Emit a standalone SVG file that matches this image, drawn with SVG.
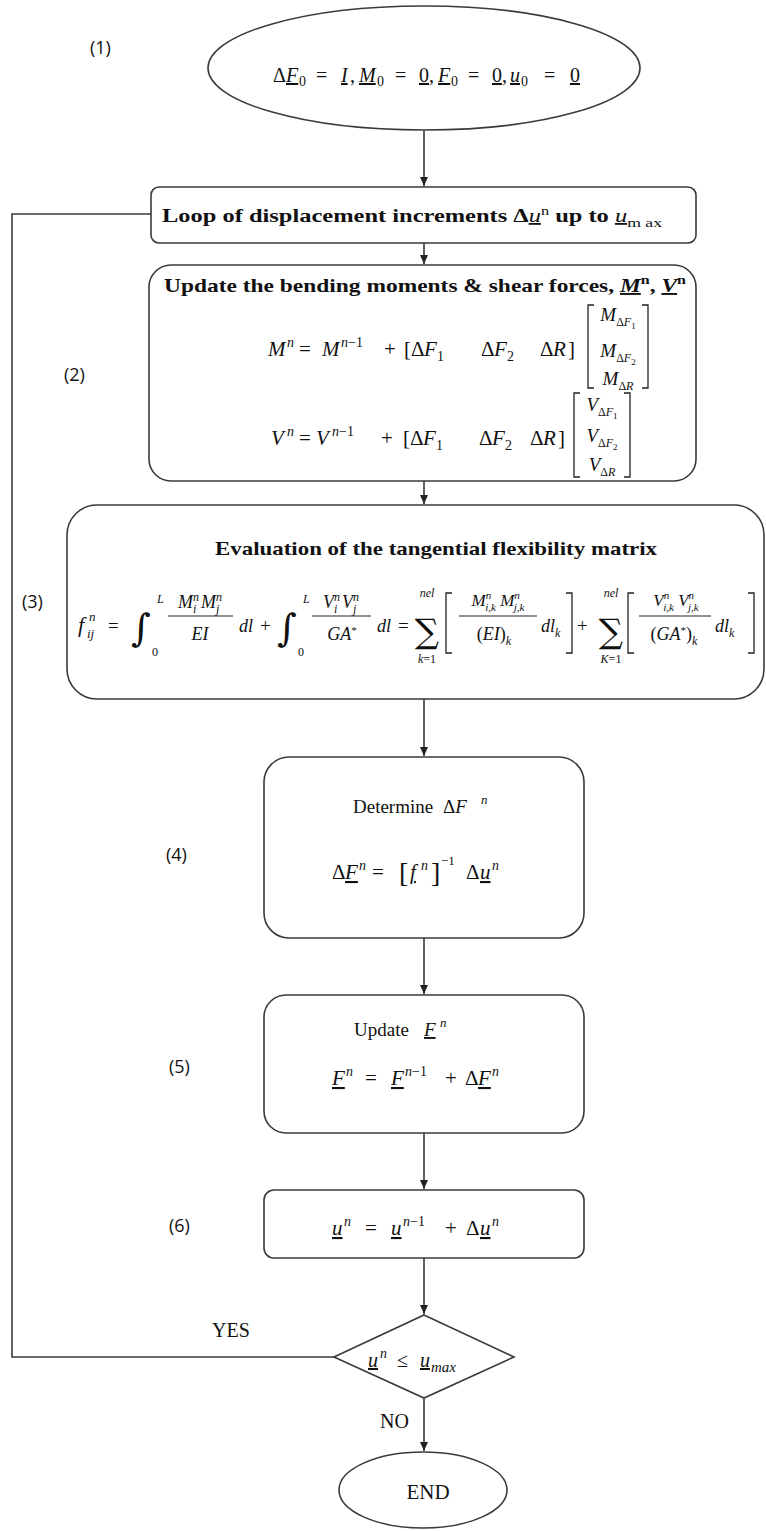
<svg xmlns="http://www.w3.org/2000/svg" width="766" height="1531" viewBox="0 0 766 1531">
<style>
.s { fill:#fff; stroke:#3a3a3a; stroke-width:1.6 }
.c { fill:none; stroke:#3a3a3a; stroke-width:1.6 }
.br { fill:none; stroke:#222; stroke-width:1.3 }
.bar { stroke:#222; stroke-width:1 }
text { fill:#111; font-family:"Liberation Serif", serif; }
.i { font-style:italic }
.b { font-weight:bold }
.u { text-decoration:underline }
.lb { font-family:"Open Sans","Liberation Sans",sans-serif; font-size:18px }
.op { font-family:"DejaVu Serif", serif }
</style>
<defs>
<marker id="ah" markerWidth="10" markerHeight="10" refX="9" refY="5" orient="auto" markerUnits="userSpaceOnUse"><path d="M0,1 L9,5 L0,9 z" fill="#222"/></marker>
</defs>
<rect x="0" y="0" width="766" height="1531" fill="#fff"/>

<g id="connectors">
<line class="c" x1="424" y1="131" x2="424" y2="186" marker-end="url(#ah)"/>
<line class="c" x1="424" y1="243" x2="424" y2="264" marker-end="url(#ah)"/>
<line class="c" x1="424" y1="481" x2="424" y2="504" marker-end="url(#ah)"/>
<line class="c" x1="424" y1="699" x2="424" y2="756" marker-end="url(#ah)"/>
<line class="c" x1="424" y1="938" x2="424" y2="994" marker-end="url(#ah)"/>
<line class="c" x1="424" y1="1133" x2="424" y2="1189" marker-end="url(#ah)"/>
<line class="c" x1="424" y1="1258" x2="424" y2="1314" marker-end="url(#ah)"/>
<line class="c" x1="424" y1="1398" x2="424" y2="1451" marker-end="url(#ah)"/>
<polyline class="c" points="334,1357 12,1357 12,214 151,214"/>
<text x="212" y="1337" font-size="20">YES</text>
<text x="380" y="1428" font-size="20">NO</text>
</g>

<g id="labels">
<text class="lb" x="90" y="54">(1)</text>
<text class="lb" x="64" y="381">(2)</text>
<text class="lb" x="22" y="608">(3)</text>
<text class="lb" x="166" y="861">(4)</text>
<text class="lb" x="169" y="1073">(5)</text>
<text class="lb" x="169" y="1232">(6)</text>
</g>

<g id="start">
<ellipse class="s" cx="424" cy="68" rx="216" ry="62"/>
<text y="82" font-size="20"><tspan x="273">Δ</tspan><tspan x="286" class="i u">F</tspan><tspan x="299" dy="4" font-size="14">0</tspan><tspan x="316" dy="-4">=</tspan><tspan x="341" class="i u">I</tspan><tspan x="350">,</tspan><tspan x="359" class="i u">M</tspan><tspan x="377" dy="4" font-size="14">0</tspan><tspan x="395" dy="-4">=</tspan><tspan x="419" class="u">0</tspan><tspan x="429">,</tspan><tspan x="438" class="i u">F</tspan><tspan x="451" dy="4" font-size="14">0</tspan><tspan x="468" dy="-4">=</tspan><tspan x="492" class="u">0</tspan><tspan x="502">,</tspan><tspan x="510" class="i u">u</tspan><tspan x="521" dy="4" font-size="14">0</tspan><tspan x="544" dy="-4">=</tspan><tspan x="570" class="u">0</tspan></text>
</g>

<g id="loop">
<rect class="s" x="151" y="187" width="545" height="56" rx="8"/>
<text class="b" x="162" y="222" font-size="18" textLength="500" lengthAdjust="spacingAndGlyphs">Loop of displacement increments Δ<tspan class="i u" font-weight="normal">u</tspan><tspan dy="-7" font-size="12" font-weight="normal">n</tspan><tspan dy="7"> up to </tspan><tspan class="i u" font-weight="normal">u</tspan><tspan dy="5" font-size="13" font-weight="normal">m ax</tspan></text>
</g>

<g id="update-moments">
<rect class="s" x="149" y="265" width="547" height="216" rx="22"/>
<text class="b" x="164" y="292" font-size="19" textLength="522" lengthAdjust="spacingAndGlyphs">Update the bending moments &amp; shear forces, <tspan class="i u">M</tspan><tspan dy="-8" font-size="13">n</tspan><tspan dy="8">, </tspan><tspan class="i u">V</tspan><tspan dy="-8" font-size="13">n</tspan></text>
<text font-size="21" y="356"><tspan x="268" class="i">M</tspan><tspan x="287" dy="-9" font-size="14" class="i">n</tspan><tspan x="299" dy="9">=</tspan><tspan x="322" class="i">M</tspan><tspan x="341" dy="-9" font-size="14"><tspan class="i">n</tspan>−1</tspan><tspan x="384" dy="9">+</tspan><tspan x="404">[</tspan><tspan x="411">Δ</tspan><tspan x="424" class="i">F</tspan><tspan x="437" dy="5" font-size="14">1</tspan><tspan x="481" dy="-5">Δ</tspan><tspan x="494" class="i">F</tspan><tspan x="507" dy="5" font-size="14">2</tspan><tspan x="540" dy="-5">Δ</tspan><tspan x="553" class="i">R</tspan><tspan x="568">]</tspan></text>
<path class="br" d="M594,305 H588 V388 H594 M642,305 H648 V388 H642"/>
<text font-size="19" y="321" x="618" text-anchor="middle"><tspan class="i">M</tspan><tspan dy="5" font-size="12">Δ<tspan class="i">F</tspan></tspan><tspan dy="3" font-size="9">1</tspan></text>
<text font-size="19" y="357" x="618" text-anchor="middle"><tspan class="i">M</tspan><tspan dy="5" font-size="12">Δ<tspan class="i">F</tspan></tspan><tspan dy="3" font-size="9">2</tspan></text>
<text font-size="19" y="385" x="618" text-anchor="middle"><tspan class="i">M</tspan><tspan dy="5" font-size="12">Δ<tspan class="i">R</tspan></tspan></text>
<text font-size="21" y="445"><tspan x="271" class="i">V</tspan><tspan x="287" dy="-9" font-size="14" class="i">n</tspan><tspan x="299" dy="9">=</tspan><tspan x="316" class="i">V</tspan><tspan x="332" dy="-9" font-size="14"><tspan class="i">n</tspan>−1</tspan><tspan x="381" dy="9">+</tspan><tspan x="403">[</tspan><tspan x="410">Δ</tspan><tspan x="423" class="i">F</tspan><tspan x="436" dy="5" font-size="14">1</tspan><tspan x="479" dy="-5">Δ</tspan><tspan x="492" class="i">F</tspan><tspan x="505" dy="5" font-size="14">2</tspan><tspan x="530" dy="-5">Δ</tspan><tspan x="543" class="i">R</tspan><tspan x="558">]</tspan></text>
<path class="br" d="M580,393 H574 V477 H580 M624,393 H630 V477 H624"/>
<text font-size="19" y="411" x="602" text-anchor="middle"><tspan class="i">V</tspan><tspan dy="5" font-size="12">Δ<tspan class="i">F</tspan></tspan><tspan dy="3" font-size="9">1</tspan></text>
<text font-size="19" y="442" x="602" text-anchor="middle"><tspan class="i">V</tspan><tspan dy="5" font-size="12">Δ<tspan class="i">F</tspan></tspan><tspan dy="3" font-size="9">2</tspan></text>
<text font-size="19" y="471" x="602" text-anchor="middle"><tspan class="i">V</tspan><tspan dy="5" font-size="12">Δ<tspan class="i">R</tspan></tspan></text>
</g>

<g id="flexibility">
<rect class="s" x="67" y="505" width="697" height="194" rx="30"/>
<text class="b" x="215" y="555" font-size="19" textLength="442" lengthAdjust="spacingAndGlyphs">Evaluation of the tangential flexibility matrix</text>
<text class="i" x="78" y="632" font-size="22">f</text>
<text class="i" x="89" y="621" font-size="13">n</text>
<text class="i" x="87" y="638" font-size="13">ij</text>
<text x="108" y="632" font-size="19">=</text>
<text class="op" x="131" y="641" font-size="38">∫</text>
<text class="i" x="157" y="603" font-size="12">L</text>
<text x="152" y="656" font-size="12">0</text>
<text x="200" y="608" font-size="18" text-anchor="middle"><tspan class="i">M</tspan><tspan dy="-7" font-size="12" class="i">n</tspan><tspan dx="-6" dy="12" font-size="12" class="i">i</tspan><tspan dy="-5" class="i"> M</tspan><tspan dy="-7" font-size="12" class="i">n</tspan><tspan dx="-6" dy="12" font-size="12" class="i">j</tspan></text>
<line class="bar" x1="168" y1="616" x2="233" y2="616"/>
<text class="i" x="200" y="640" font-size="18" text-anchor="middle">EI</text>
<text class="i" x="239" y="632" font-size="18">dl</text>
<text x="260" y="632" font-size="19">+</text>
<text class="op" x="277" y="641" font-size="38">∫</text>
<text class="i" x="303" y="603" font-size="12">L</text>
<text x="298" y="656" font-size="12">0</text>
<text x="341" y="608" font-size="18" text-anchor="middle"><tspan class="i">V</tspan><tspan dy="-7" font-size="12" class="i">n</tspan><tspan dx="-6" dy="12" font-size="12" class="i">i</tspan><tspan dy="-5" class="i"> V</tspan><tspan dy="-7" font-size="12" class="i">n</tspan><tspan dx="-6" dy="12" font-size="12" class="i">j</tspan></text>
<line class="bar" x1="312" y1="616" x2="371" y2="616"/>
<text x="342" y="640" font-size="18" text-anchor="middle"><tspan class="i">GA</tspan><tspan dy="-6" font-size="11">*</tspan></text>
<text class="i" x="377" y="632" font-size="18">dl</text>
<text x="398" y="632" font-size="19">=</text>
<text class="op" x="427" y="643" font-size="34" text-anchor="middle">∑</text>
<text class="i" x="427" y="597" font-size="12" text-anchor="middle">nel</text>
<text x="427" y="663" font-size="12" text-anchor="middle"><tspan class="i">k</tspan>=1</text>
<path class="br" d="M452,593 H446 V653 H452"/>
<text x="498" y="606" font-size="17" text-anchor="middle"><tspan class="i">M</tspan><tspan dy="-7" font-size="11" class="i">n</tspan><tspan dx="-6" dy="12" font-size="11" class="i">i,k</tspan><tspan dy="-5" class="i"> M</tspan><tspan dy="-7" font-size="11" class="i">n</tspan><tspan dx="-6" dy="12" font-size="11" class="i">j,k</tspan></text>
<line class="bar" x1="459" y1="616" x2="537" y2="616"/>
<text x="494" y="640" font-size="18" text-anchor="middle">(<tspan class="i">EI</tspan>)<tspan dy="5" font-size="12" class="i">k</tspan></text>
<text class="i" x="541" y="632" font-size="18">dl<tspan dy="5" font-size="12">k</tspan></text>
<path class="br" d="M566,593 H572 V653 H566"/>
<text x="577" y="632" font-size="19">+</text>
<text class="op" x="611" y="643" font-size="34" text-anchor="middle">∑</text>
<text class="i" x="611" y="597" font-size="12" text-anchor="middle">nel</text>
<text x="611" y="663" font-size="12" text-anchor="middle"><tspan class="i">K</tspan>=1</text>
<path class="br" d="M634,593 H628 V653 H634"/>
<text x="676" y="606" font-size="17" text-anchor="middle"><tspan class="i">V</tspan><tspan dy="-7" font-size="11" class="i">n</tspan><tspan dx="-6" dy="12" font-size="11" class="i">i,k</tspan><tspan dy="-5" class="i"> V</tspan><tspan dy="-7" font-size="11" class="i">n</tspan><tspan dx="-6" dy="12" font-size="11" class="i">j,k</tspan></text>
<line class="bar" x1="639" y1="616" x2="711" y2="616"/>
<text x="674" y="640" font-size="18" text-anchor="middle">(<tspan class="i">GA</tspan><tspan dy="-6" font-size="11">*</tspan><tspan dy="6">)</tspan><tspan dy="5" font-size="12" class="i">k</tspan></text>
<text class="i" x="715" y="632" font-size="18">dl<tspan dy="5" font-size="12">k</tspan></text>
<path class="br" d="M748,593 H754 V653 H748"/>
</g>

<g id="determine">
<rect class="s" x="264" y="757" width="320" height="181" rx="25"/>
<text x="353" y="813" font-size="19">Determine<tspan x="443">Δ</tspan><tspan class="i">F</tspan><tspan x="481" dy="-9" font-size="13" class="i">n</tspan></text>
<text y="879" font-size="21"><tspan x="332">Δ</tspan><tspan x="345" class="i u">F</tspan><tspan x="359" dy="-9" font-size="14" class="i">n</tspan><tspan x="372" dy="9">=</tspan><tspan x="399" dy="3" font-size="28">[</tspan><tspan x="410" dy="-3" class="i u">f</tspan><tspan x="421" dy="-9" font-size="14" class="i">n</tspan><tspan x="431" dy="12" font-size="28">]</tspan><tspan x="441" dy="-17" font-size="13">−1</tspan><tspan x="466" dy="14">Δ</tspan><tspan x="480" class="i u">u</tspan><tspan x="492" dy="-9" font-size="14" class="i">n</tspan></text>
</g>

<g id="update-forces">
<rect class="s" x="264" y="995" width="320" height="138" rx="22"/>
<text x="354" y="1036" font-size="19">Update<tspan x="424" class="i u">F</tspan><tspan x="440" dy="-9" font-size="13" class="i">n</tspan></text>
<text y="1085" font-size="21"><tspan x="332" class="i u">F</tspan><tspan x="346" dy="-9" font-size="14" class="i">n</tspan><tspan x="365" dy="9">=</tspan><tspan x="391" class="i u">F</tspan><tspan x="405" dy="-9" font-size="14"><tspan class="i">n</tspan>−1</tspan><tspan x="445" dy="9">+</tspan><tspan x="465">Δ</tspan><tspan x="478" class="i u">F</tspan><tspan x="492" dy="-9" font-size="14" class="i">n</tspan></text>
</g>

<g id="update-displacement">
<rect class="s" x="264" y="1190" width="320" height="68" rx="10"/>
<text y="1235" font-size="21"><tspan x="332" class="i u">u</tspan><tspan x="344" dy="-9" font-size="14" class="i">n</tspan><tspan x="365" dy="9">=</tspan><tspan x="391" class="i u">u</tspan><tspan x="403" dy="-9" font-size="14"><tspan class="i">n</tspan>−1</tspan><tspan x="445" dy="9">+</tspan><tspan x="466">Δ</tspan><tspan x="480" class="i u">u</tspan><tspan x="492" dy="-9" font-size="14" class="i">n</tspan></text>
</g>

<g id="decision">
<polygon class="s" points="424,1315 514,1357 424,1398 334,1357"/>
<text y="1367" font-size="20"><tspan x="368" class="i u">u</tspan><tspan x="380" dy="-9" font-size="14" class="i">n</tspan><tspan x="397" dy="9">≤</tspan><tspan x="420" class="i u">u</tspan><tspan x="431" dy="5" font-size="15" class="i">max</tspan></text>
</g>

<g id="end">
<ellipse class="s" cx="423" cy="1490" rx="84" ry="38"/>
<text x="428" y="1499" font-size="21" text-anchor="middle">END</text>
</g>
</svg>
